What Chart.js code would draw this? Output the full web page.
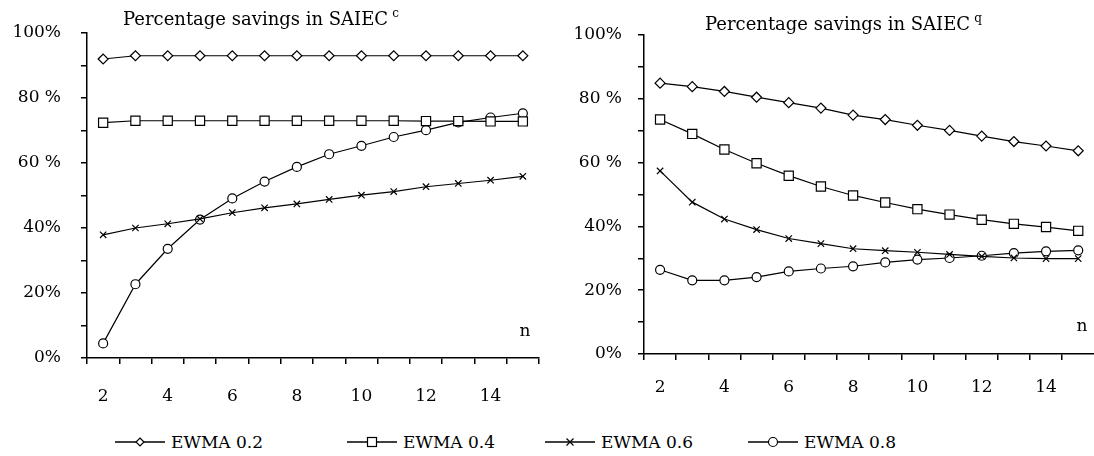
<!DOCTYPE html>
<html><head><meta charset="utf-8">
<script src="https://cdn.jsdelivr.net/npm/chart.js@4/dist/chart.umd.min.js"></script>
<style>
html,body{margin:0;padding:0;background:#fff;overflow:hidden;width:1094px;height:456px;}
#c1{position:absolute;left:0;top:0;}
#c2{position:absolute;left:557px;top:0;}
.leg{position:absolute;top:432px;height:20px;display:flex;align-items:center;font-family:'DejaVu Serif';font-size:17px;color:#000;white-space:nowrap;}
.leg svg{margin-right:6px;}
</style></head><body>
<canvas id="c1" width="560" height="420"></canvas>
<canvas id="c2" width="545" height="420"></canvas>
<div id="legend"></div>
<script>
// ---- data ----
const categories = ['2','3','4','5','6','7','8','9','10','11','12','13','14','15'];
const seriesNames = ['EWMA 0.2','EWMA 0.4','EWMA 0.6','EWMA 0.8'];
const yTickValues = [0,20,40,60,80,100];
const yTickLabels = ['0%','20%','40%','60 %','80 %','100%'];
const titleLeft = 'Percentage savings in SAIEC';
const supLeft = 'c';
const titleRight = 'Percentage savings in SAIEC';
const supRight = 'q';
const axisName = 'n';

const saiecC_ewma02 = [92, 93, 93, 93, 93, 93, 93, 93, 93, 93, 93, 93, 93, 93];
const saiecC_ewma04 = [72.4, 73, 73, 73, 73, 73, 73, 73, 73, 73, 72.9, 72.9, 72.8, 72.8];
const saiecC_ewma06 = [37.9, 40.0, 41.3, 42.8, 44.7, 46.2, 47.4, 48.8, 50.1, 51.2, 52.7, 53.7, 54.7, 55.9];
const saiecC_ewma08 = [4.5, 22.7, 33.6, 42.6, 49.1, 54.3, 58.8, 62.7, 65.3, 68.0, 70.1, 72.5, 74.0, 75.3];

const saiecQ_ewma02 = [84.9, 83.8, 82.3, 80.5, 78.8, 77.1, 74.9, 73.5, 71.7, 70.1, 68.3, 66.6, 65.2, 63.7];
const saiecQ_ewma04 = [73.5, 69.0, 64.1, 59.8, 55.9, 52.5, 49.7, 47.5, 45.4, 43.7, 42.1, 40.8, 39.8, 38.6];
const saiecQ_ewma06 = [57.4, 47.6, 42.3, 39.0, 36.2, 34.6, 33.0, 32.4, 31.9, 31.2, 30.6, 30.1, 29.9, 29.9];
const saiecQ_ewma08 = [26.4, 23.1, 23.1, 24.1, 25.9, 26.8, 27.5, 28.7, 29.6, 30.1, 30.8, 31.6, 32.2, 32.5];

// ---- styles ----
const pointStyles = ['rectRot','rect','crossRot','circle'];
const pointRadii = [5, 6.5, 4.5, 4.5];
const FONT = 'DejaVu Serif';
Chart.defaults.font.family = FONT;
Chart.defaults.color = '#000';

const yTickMap = {};
yTickValues.forEach((v,i)=>{ yTickMap[v] = yTickLabels[i]; });

const textPlugin = {
  id: 'sketchText',
  afterDraw(chart, args, opts) {
    const ctx = chart.ctx;
    ctx.save();
    ctx.fillStyle = '#000';
    ctx.textBaseline = 'alphabetic';
    ctx.textAlign = 'left';
    ctx.font = '18px "' + FONT + '"';
    ctx.fillText(opts.title, opts.tx, opts.ty);
    const w = ctx.measureText(opts.title).width;
    ctx.font = '12px "' + FONT + '"';
    ctx.fillText(opts.sup, opts.tx + w + 4, opts.ty - 8);
    ctx.font = '17px "' + FONT + '"';
    ctx.textAlign = 'center';
    ctx.textBaseline = 'middle';
    ctx.fillText(opts.n, opts.nx, opts.ny);
    ctx.restore();
  }
};

function makeChart(id, series, cfg) {
  return new Chart(document.getElementById(id), {
    type: 'line',
    data: {
      labels: categories,
      datasets: series.map((d,i)=>({
        label: seriesNames[i], data: d,
        borderColor:'#000', borderWidth:1.2, backgroundColor:'#fff',
        pointStyle: pointStyles[i], pointRadius: pointRadii[i],
        pointBorderColor:'#000', pointBackgroundColor:'#fff', pointBorderWidth:1.2,
        tension:0, fill:false
      }))
    },
    options: {
      responsive:false, animation:false, devicePixelRatio:1,
      layout:{padding:{left:0, right:cfg.padR, top:cfg.padT, bottom:cfg.padB}},
      plugins:{legend:{display:false}, tooltip:{enabled:false}, title:{display:false}, sketchText: cfg.text},
      scales:{
        x:{type:'category', offset:true,
           grid:{offset:true, drawOnChartArea:false, drawTicks:true, tickLength:6, color:'#000', lineWidth:1.5},
           border:{display:true, color:'#000', width:1.5},
           ticks:{autoSkip:false, maxRotation:0, padding:cfg.xPad, color:'#000', font:{size:17},
             callback:function(v){ const l=this.getLabelForValue(v); return (+l)%2===0 ? l : ''; }},
           afterFit:s=>{ s.height=55; }},
        y:{min:0, max:100,
           ticks:{stepSize:10, padding:cfg.yPad, color:'#000', font:{size:17}, callback:v=> (yTickMap[v] !== undefined ? yTickMap[v] : '')},
           grid:{drawOnChartArea:false, tickLength:6, color:'#000', lineWidth:1.5},
           border:{color:'#000', width:1.5},
           afterFit:s=>{ s.width=87; }}
      }
    },
    plugins:[textPlugin]
  });
}

makeChart('c1', [saiecC_ewma02, saiecC_ewma04, saiecC_ewma06, saiecC_ewma08],
  {padR:21, padT:33, padB:7, xPad:22, yPad:20,
   text:{title:titleLeft, sup:supLeft, tx:123, ty:25, n:axisName, nx:525, ny:332}});
makeChart('c2', [saiecQ_ewma02, saiecQ_ewma04, saiecQ_ewma06, saiecQ_ewma08],
  {padR:6, padT:35, padB:11, xPad:17, yPad:16,
   text:{title:titleRight, sup:supRight, tx:148, ty:30, n:axisName, nx:525, ny:327}});

// ---- legend (HTML) ----
const legendLeft = [115, 347, 545, 748];
const lg = document.getElementById('legend');
function iconSvg(style){
  let m = '';
  if (style==='rectRot') m = '<polygon points="25,3 29,7 25,11 21,7" fill="#fff" stroke="#000" stroke-width="1.2"/>';
  if (style==='rect') m = '<rect x="20.5" y="2.5" width="9" height="9" fill="#fff" stroke="#000" stroke-width="1.2"/>';
  if (style==='crossRot') m = '<path d="M21.5 3.5 L28.5 10.5 M28.5 3.5 L21.5 10.5" stroke="#000" stroke-width="1.2"/>';
  if (style==='circle') m = '<circle cx="25" cy="7" r="4.5" fill="#fff" stroke="#000" stroke-width="1.2"/>';
  return '<svg width="50" height="14" viewBox="0 0 50 14"><line x1="0" y1="7" x2="50" y2="7" stroke="#000" stroke-width="1.5"/>'+m+'</svg>';
}
seriesNames.forEach((name,i)=>{
  const d = document.createElement('div');
  d.className = 'leg';
  d.style.left = legendLeft[i] + 'px';
  d.innerHTML = iconSvg(pointStyles[i]) + '<span>' + name + '</span>';
  lg.appendChild(d);
});
</script>
</body></html>
